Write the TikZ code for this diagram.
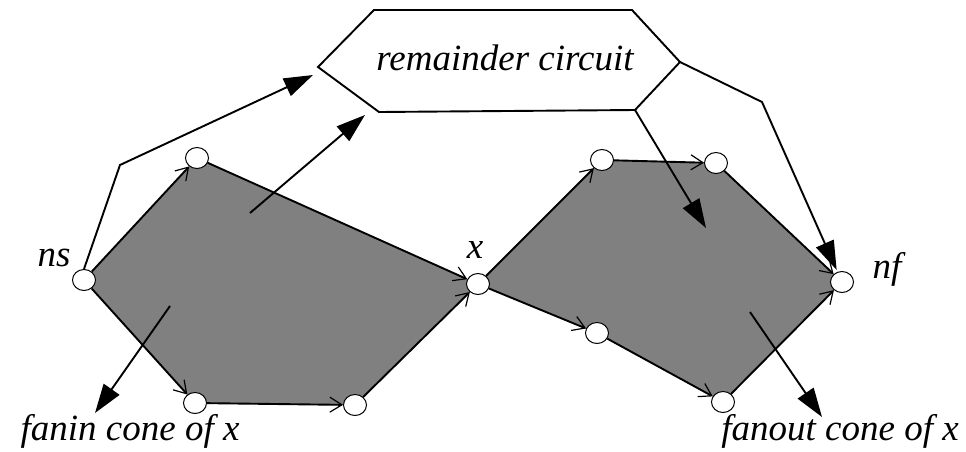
\documentclass[tikz,border=0pt]{standalone}
\usepackage{fontspec}
\setmainfont{Liberation Serif}
\usetikzlibrary{arrows.meta,shapes.geometric}

\definecolor{conegray}{HTML}{808080}

\tikzset{
  gate/.style={ellipse, draw=black, line width=1pt, fill=white,
               minimum width=23pt, minimum height=21pt, inner sep=0pt},
  wire/.style={line width=1.9pt, -{Straight Barb[length=12pt,width=15pt,line width=1.2pt]}},
  bigarrow/.style={line width=1.9pt, -{Triangle[length=29pt,width=19pt]}},
  outline/.style={line width=1.9pt, line join=miter},
  lbl/.style={font=\fontsize{37pt}{40pt}\selectfont\itshape, inner sep=0pt}
}

\begin{document}
\begin{tikzpicture}[x=1pt,y=-1pt]
\useasboundingbox (0,0) rectangle (966,451);

% gate positions
\coordinate (pns) at (84,280);
\coordinate (pa)  at (197,158);
\coordinate (pb)  at (195,403);
\coordinate (pc)  at (355,405);
\coordinate (px)  at (478,284);
\coordinate (pd)  at (602,160);
\coordinate (pe)  at (716,163);
\coordinate (pf)  at (597,333);
\coordinate (pg)  at (723,402);
\coordinate (pnf) at (842,282);

% shaded cones
\fill[conegray] (pns) -- (pa) -- (px) -- (pc) -- (pb) -- cycle;
\fill[conegray] (px) -- (pd) -- (pe) -- (pnf) -- (pg) -- (pf) -- cycle;

% remainder circuit box
\coordinate (rl)  at (318,67);
\coordinate (rtl) at (374,10);
\coordinate (rtr) at (632,10);
\coordinate (rr)  at (680,62);
\coordinate (rbr) at (635,110);
\coordinate (rbl) at (379,112);
\draw[outline, fill=white] (rl) -- (rtl) -- (rtr) -- (rr) -- (rbr) -- (rbl) -- cycle;
\node[lbl, anchor=base] (rem) at (505,70) {remainder circuit};

% gates
\node[gate] (ns) at (pns) {};
\node[gate] (a)  at (pa)  {};
\node[gate] (b)  at (pb)  {};
\node[gate] (c)  at (pc)  {};
\node[gate] (x)  at (px)  {};
\node[gate] (d)  at (pd)  {};
\node[gate] (e)  at (pe)  {};
\node[gate] (f)  at (pf)  {};
\node[gate] (g)  at (pg)  {};
\node[gate] (nf) at (pnf) {};

% fanin cone wires
\draw[wire] (ns) -- (a);
\draw[wire] (a) -- (x);
\draw[wire] (ns) -- (b);
\draw[wire] (b) -- (c);
\draw[wire] (c) -- (x);

% fanout cone wires
\draw[wire] (x) -- (d);
\draw[wire] (d) -- (e);
\draw[wire] (e) -- (nf);
\draw[wire] (x) -- (f);
\draw[wire] (f) -- (g);
\draw[wire] (g) -- (nf);

% connections to and from the remainder circuit
\coordinate (k1)   at (120,165);
\coordinate (remin) at (313,75);
\draw[bigarrow] (ns.north) -- (k1) -- (remin);

\coordinate (fi)   at (250,213);
\coordinate (remin2) at (365,115);
\draw[bigarrow] (fi) -- (remin2);

\coordinate (fo)   at (706,228);
\draw[bigarrow] (rbr) -- (fo);

\coordinate (k2)   at (762,102);
\draw[bigarrow, shorten >=2pt] (rr) -- (k2) -- (nf);

% cone labels and their pointers
\coordinate (fanin0) at (170,306);
\coordinate (fanin1) at (95,413);
\draw[bigarrow] (fanin0) -- (fanin1);
\coordinate (fanout0) at (750,312);
\coordinate (fanout1) at (822,417);
\draw[bigarrow] (fanout0) -- (fanout1);

\node[lbl, anchor=base] (finl) at (130,440) {fanin cone of x};
\node[lbl, anchor=base] (fonl) at (840,440) {fanout cone of x};

% node names
\node[lbl, anchor=base] (nsl) at (54,266) {ns};
\node[lbl, anchor=base] (xl)  at (475,258) {x};
\node[lbl, anchor=base] (nfl) at (887,278) {nf};
\end{tikzpicture}
\end{document}
